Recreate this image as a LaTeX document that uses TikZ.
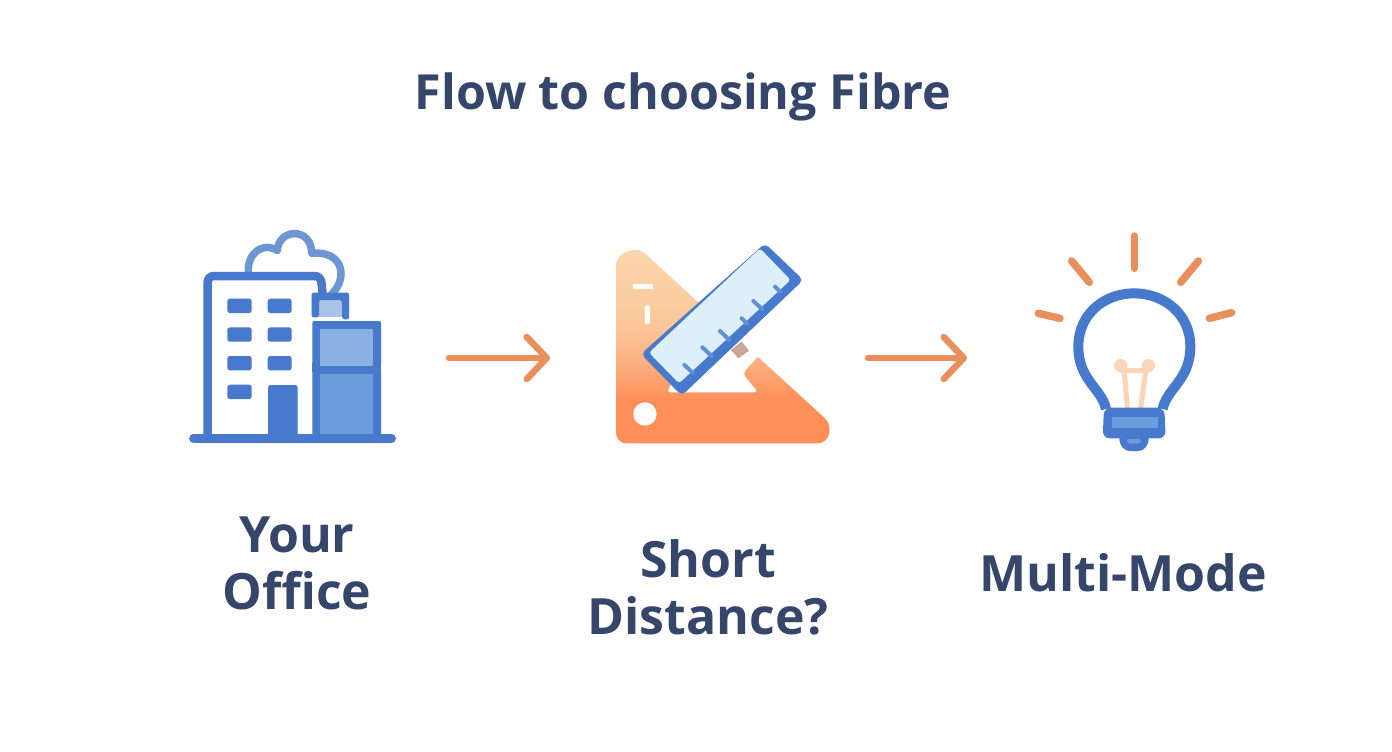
\documentclass[tikz,border=0pt]{standalone}
\usepackage{fontspec}
\setmainfont{Open Sans}
\usetikzlibrary{arrows.meta}
\definecolor{ink}{HTML}{36466B}
\definecolor{bluem}{HTML}{4779CC}
\definecolor{bluelow}{HTML}{6B9CDB}
\definecolor{blueup}{HTML}{8AB1E2}
\definecolor{bluepale}{HTML}{A9C3E5}
\definecolor{cloudc}{HTML}{6E96D2}
\definecolor{tick}{HTML}{5F8FD4}
\definecolor{rulerc}{HTML}{DDEFF8}
\definecolor{orangem}{HTML}{E98F5C}
\definecolor{fila}{HTML}{FAD5B8}
\definecolor{pinc}{HTML}{C9A797}
\pgfdeclareverticalshading{setsq}{100bp}{rgb(0bp)=(1,0.56,0.35);rgb(25bp)=(1,0.56,0.35);rgb(36bp)=(1,0.56,0.35);rgb(46bp)=(0.98,0.69,0.50);rgb(55bp)=(0.98,0.78,0.60);rgb(75bp)=(0.99,0.84,0.68);rgb(100bp)=(0.99,0.84,0.68)}
\tikzset{
 titletext/.style={text=ink,font=\fontsize{48.4}{56}\selectfont\bfseries,inner sep=0pt},
 labeltext/.style={text=ink,font=\fontsize{50}{57}\selectfont\bfseries,align=center,inner sep=0pt},
 iconbox/.style={minimum height=100pt,inner sep=0pt,outer sep=0pt},
 flowarrow/.style={draw=orangem,line width=6.5pt,line cap=round,-{Straight Barb[length=20pt,width=42pt,line width=6.5pt,round]}},
 win/.style={fill=bluem,rounded corners=2.5pt},
 tickmark/.style={draw=tick,line width=4pt,line cap=round},
 ray/.style={draw=orangem,line width=7.5pt,line cap=round},
 filament/.style={draw=fila,line width=5pt},
}
\begin{document}
\begin{tikzpicture}[x=1pt,y=-1pt]
\useasboundingbox (0,0) rectangle (1392,752);
\fill[white] (0,0) rectangle (1392,752);
\node[titletext] (title) at (683,97) {Flow to choosing Fibre};
\node[labeltext] (lab1) at (297,563) {Your\\Office};
\node[labeltext] (lab2) at (708,587) {Short\\Distance?};
\node[labeltext] (lab3) at (1123,573) {Multi-Mode};
\node[iconbox,minimum width=206pt] (office) at (293,358) {};
\node[iconbox,minimum width=213pt] (square) at (722.5,358) {};
\node[iconbox,minimum width=200pt] (bulb) at (1135,358) {};
\draw[flowarrow,shorten <=53pt,shorten >=66pt] (office.east) -- (square.west);
\draw[flowarrow,shorten <=39pt,shorten >=68pt] (square.east) -- (bulb.west);
% office icon (coordinates in zoom units)
\begin{scope}[shift={(170pt,-220pt)},x=0.33333pt,y=-0.33333pt]
\draw[cloudc,line width=7.5pt,line cap=round,line join=round]
 (235,155) .. controls (232,95) and (285,65) .. (322,92)
 .. controls (325,25) and (425,20) .. (425,100)
 .. controls (520,90) and (535,175) .. (485,222);
\draw[bluem,line width=8.5pt,line join=round,rounded corners=6pt]
 (113,650) -- (113,168) -- (452,168) -- (458,222);
\foreach \yy in {236,322,408}{
 \fill[win] (172,\yy) rectangle (245,\yy+43);
 \fill[win] (293,\yy) rectangle (365,\yy+43);}
\fill[win] (172,494) rectangle (245,537);
\fill[bluem,rounded corners=2.5pt] (294,650) -- (294,495) -- (383,495) -- (383,650) -- cycle;
\fill[bluepale] (447,238) rectangle (517,290);
\fill[bluem,rounded corners=2pt] (425,292) -- (425,218) -- (537,218) -- (537,298) -- (517,298) -- (515,240) -- (447,240) -- (447,292) -- cycle;
\fill[bluem,rounded corners=2pt] (427,303) rectangle (633,437);
\fill[bluem,rounded corners=2pt] (427,447) rectangle (633,652);
\fill[bluem] (427,430) rectangle (633,455);
\fill[blueup] (450,327) rectangle (610,437);
\fill[bluelow] (450,463) rectangle (610,642);
\draw[bluem,line width=8.5pt,line cap=round] (70,655) -- (665,655);
\end{scope}
% set-square icon
\begin{scope}[shift={(600pt,-230pt)},x=0.33333pt,y=-0.33333pt]
\shade[shading=setsq] (140,75) -- (675,565) .. controls (697,585) and (695,640) .. (650,640) -- (80,640) .. controls (58,640) and (48,625) .. (48,605) -- (48,110) .. controls (48,78) and (75,60) .. (110,60) .. controls (122,60) and (132,66) .. (140,75) -- cycle;
\fill[white,rounded corners=4pt] (200,487) -- (474,487) -- (428,430) -- (480,373) -- (340,240) -- cycle;
\fill[white] (100,163) rectangle (158,178);
\fill[white,rounded corners=2pt] (134,226) rectangle (150,282);
\fill[white] (135,552) circle[radius=35];
\fill[pinc] (393,360) -- (425,335) -- (447,362) -- (415,385) -- cycle;
\fill[bluem,rounded corners=5pt] (495,40) -- (610,150) -- (245,497) -- (123,372) -- cycle;
\fill[rulerc,rounded corners=3pt] (480,55) -- (572,150) -- (237,460) -- (147,368) -- cycle;
\draw[tickmark] (253,405) -- (278,428);
\draw[tickmark] (307,352) -- (335,378);
\draw[tickmark] (360,303) -- (388,330);
\draw[tickmark] (425,265) -- (440,280);
\draw[tickmark] (460,213) -- (487,238);
\draw[tickmark] (525,170) -- (540,185);
\end{scope}
% bulb icon
\begin{scope}[shift={(1020pt,-225pt)},x=0.33333pt,y=-0.33333pt]
\draw[ray] (343,33) -- (343,130);
\draw[ray] (155,108) -- (208,172);
\draw[ray] (535,108) -- (482,172);
\draw[ray] (55,265) -- (120,280);
\draw[ray] (635,263) -- (568,280);
\draw[filament] (312,430) -- (322,550);
\draw[filament] (378,430) -- (362,550);
\draw[filament] (302,437) -- (385,437);
\fill[fila] (302,422) circle[radius=20];
\fill[fila] (385,422) circle[radius=20];
\draw[bluem,line width=10pt]
 (258,552) .. controls (245,490) and (175,465) .. (175,365)
 .. controls (175,265) and (255,205) .. (342,205)
 .. controls (430,205) and (511,265) .. (511,365)
 .. controls (511,465) and (440,490) .. (428,552);
\fill[bluem,rounded corners=7pt] (252,548) -- (433,548) -- (437,640) -- (248,640) -- cycle;
\fill[bluem,rounded corners=7pt] (292,630) -- (392,630) -- (375,678) -- (309,678) -- cycle;
\fill[bluelow] (275,577) rectangle (413,608);
\fill[bluelow,rounded corners=3pt] (318,642) -- (365,642) -- (360,656) -- (323,656) -- cycle;
\end{scope}
\end{tikzpicture}
\end{document}
